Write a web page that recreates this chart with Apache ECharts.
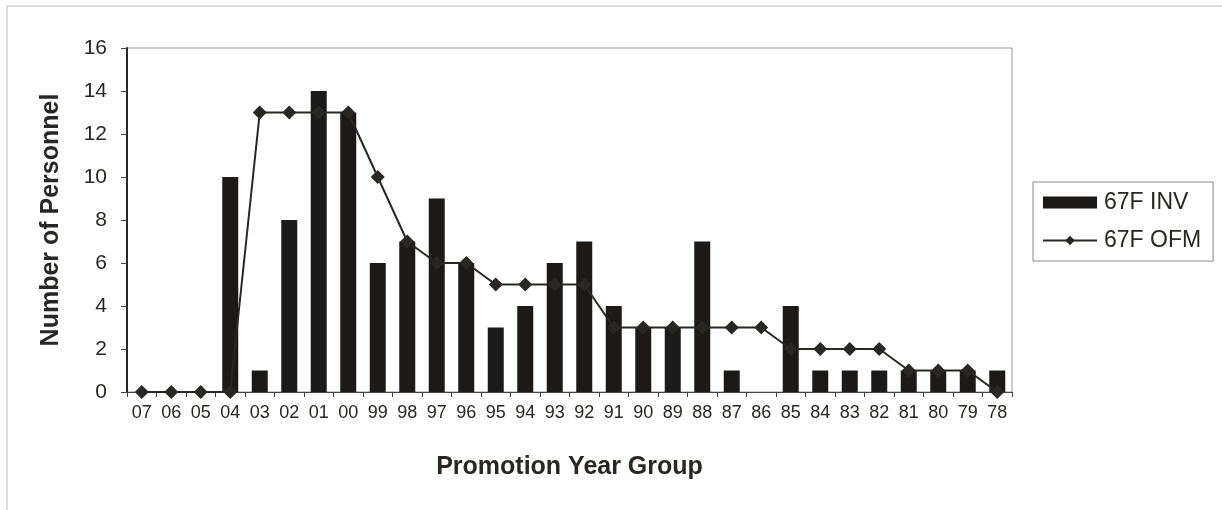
<!DOCTYPE html>
<html><head><meta charset="utf-8">
<script src="https://cdn.jsdelivr.net/npm/echarts@6/dist/echarts.min.js"></script>
<style>html,body{margin:0;padding:0;background:#fff}#c{width:1222px;height:510px}</style>
</head><body><div id="c"></div>
<script>
const categories = ['07','06','05','04','03','02','01','00','99','98','97','96','95','94','93','92','91','90','89','88','87','86','85','84','83','82','81','80','79','78'];
const inv = [0,0,0,10,1,8,14,13,6,7,9,6,3,4,6,7,4,3,3,7,1,0,4,1,1,1,1,1,1,1];
const ofm = [0,0,0,0,13,13,13,13,10,7,6,6,5,5,5,5,3,3,3,3,3,3,2,2,2,2,1,1,1,0];
const yTicks = [0,2,4,6,8,10,12,14,16];

const chart = echarts.init(document.getElementById('c'), null, {renderer:'canvas'});
const font = 'Liberation Sans, Arial, sans-serif';
const txt = '#2a2622';
chart.setOption({
  animation:false,
  backgroundColor:'#fff',
  textStyle:{fontFamily:font},
  graphic:[{type:'rect',shape:{x:7,y:6,width:1220,height:520},style:{fill:'none',stroke:'#bbb',lineWidth:1},silent:true}],
  grid:{left:127,top:48,width:885,height:344,show:true,borderColor:'#999',borderWidth:1,backgroundColor:'transparent'},
  legend:{
    left:1033, top:182, orient:'vertical', itemGap:15, itemWidth:54, itemHeight:12,
    padding:[9,12,9,9], borderColor:'#888', borderWidth:1,
    textStyle:{fontSize:23, color:txt, fontFamily:font, padding:[0,0,0,2]},
    data:[{name:'67F INV', icon:'rect'},{name:'67F OFM'}]
  },
  xAxis:{
    type:'category', data:categories, boundaryGap:true,
    name:'Promotion Year Group', nameLocation:'middle', nameGap:63,
    nameTextStyle:{fontSize:25, fontWeight:'bold', color:txt, fontFamily:font},
    axisLine:{lineStyle:{color:'#444',width:1}},
    axisTick:{show:true, length:5, inside:false, lineStyle:{color:'#444'}},
    axisLabel:{fontSize:18, color:txt, margin:12, interval:0, fontFamily:font}
  },
  yAxis:{
    type:'value', min:0, max:16, interval:2,
    name:'Number of Personnel', nameLocation:'middle', nameGap:63, nameRotate:90,
    nameTextStyle:{fontSize:25, fontWeight:'bold', color:txt, fontFamily:font},
    axisLine:{show:true, lineStyle:{color:'#2a2622',width:2}},
    axisTick:{show:true, length:6, lineStyle:{color:'#444'}},
    splitLine:{show:false},
    axisLabel:{fontSize:21, color:txt, margin:20, fontFamily:font,
      formatter:v=>yTicks.includes(v)?String(v):''}
  },
  series:[
    {name:'67F INV', type:'bar', data:inv, barWidth:16, itemStyle:{color:'#1c1916'}},
    {name:'67F OFM', type:'line', data:ofm, symbol:'diamond', symbolSize:14, showSymbol:true,
     lineStyle:{color:'#2a2622', width:2}, itemStyle:{color:'#2a2622'}, z:5}
  ]
});
</script></body></html>
